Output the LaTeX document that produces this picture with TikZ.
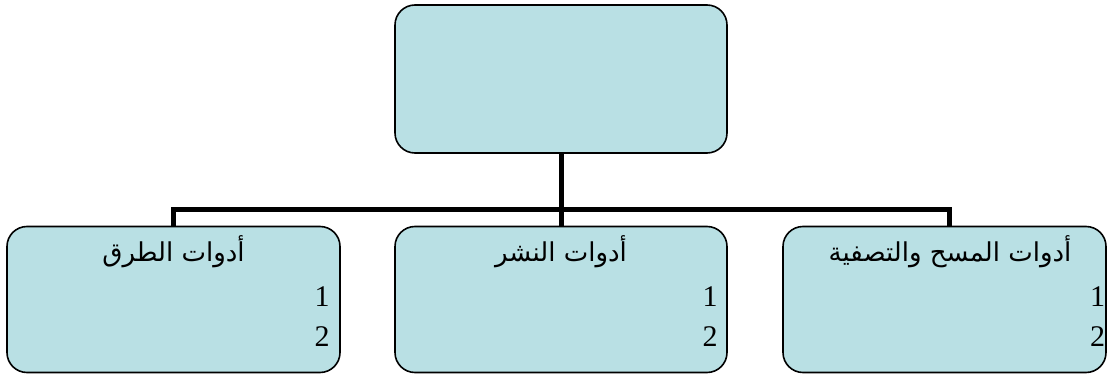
\documentclass[tikz,border=0pt]{standalone}
\usepackage{fontspec}
\setmainfont{Liberation Serif}
\newfontfamily\arabicfont[Script=Arabic]{DejaVu Sans}
\TeXXeTstate=1
\definecolor{boxfill}{RGB}{185,224,228}
\tikzset{
  orgbox/.style={draw, line width=1.6pt, fill=boxfill, rounded corners=20pt,
    minimum height=146pt, inner sep=0pt},
  bus/.style={line width=5pt, line join=miter},
  heading/.style={inner sep=0pt, font=\arabicfont\fontsize{26}{30}\selectfont},
  nums/.style={inner sep=0pt, align=right, font=\fontsize{30}{40}\selectfont}
}
\begin{document}
\begin{tikzpicture}[x=1pt,y=-1pt]
  \useasboundingbox (0,0) rectangle (1107,374);
  \node[orgbox, minimum width=332pt, minimum height=148pt] (top) at (561,79) {};
  \node[orgbox, minimum width=333pt] (tarq) at (173.5,299.5) {};
  \node[orgbox, minimum width=332pt] (nashr) at (561,299.5) {};
  \node[orgbox, minimum width=323pt] (mash) at (944.5,299.5) {};
  \draw[bus] (top.south) -- (nashr.north);
  \draw[bus] (tarq.north) -- ++(0,-16) -| ([xshift=5pt]mash.north);
  \node[heading, anchor=base] (ttarq) at ([yshift=-36pt]tarq.north) {\beginR أدوات الطرق\endR};
  \node[heading, anchor=base] (tnashr) at ([yshift=-36pt]nashr.north) {\beginR أدوات النشر\endR};
  \node[heading, anchor=base] (tmash) at ([xshift=5.5pt,yshift=-36pt]mash.north) {\beginR أدوات المسح والتصفية\endR};
  % base anchor sits on the last line (the 2)
  \node[nums, anchor=base east] (ntarq) at ([xshift=-11pt,yshift=-121pt]tarq.north east) {1\\2};
  \node[nums, anchor=base east] (nnashr) at ([xshift=-10pt,yshift=-121pt]nashr.north east) {1\\2};
  \node[nums, anchor=base east] (nmash) at ([xshift=-1.5pt,yshift=-121pt]mash.north east) {1\\2};
\end{tikzpicture}
\end{document}
